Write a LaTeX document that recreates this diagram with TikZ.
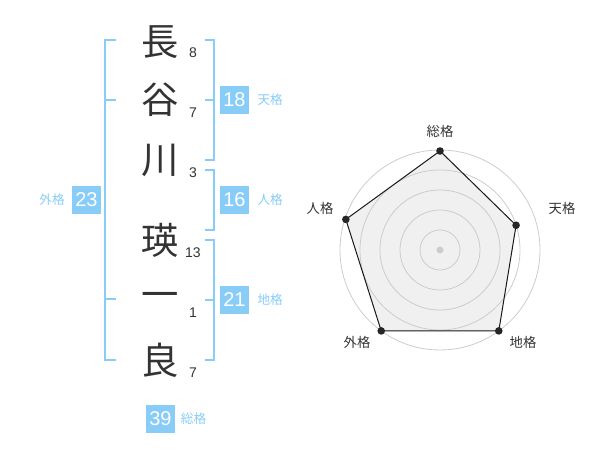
\documentclass[tikz,border=0pt]{standalone}
\usepackage{fontspec}
\usetikzlibrary{positioning}
\setmainfont{Liberation Sans}
\newfontfamily\jp{Noto Sans CJK JP}
\definecolor{kakusky}{HTML}{88CCF8}
\definecolor{inkgray}{HTML}{333333}
\definecolor{ringgray}{HTML}{CCCCCC}
\definecolor{padgray}{HTML}{F0F0F0}

\begin{document}
\begin{tikzpicture}[x=0.75pt,y=0.75pt,
  kanji/.style={font=\jp\fontsize{28}{28}\selectfont, text=inkgray, inner sep=0pt},
  strokes/.style={font=\fontsize{10.5}{10.5}\selectfont, text=inkgray, inner sep=0pt},
  kakubox/.style={fill=kakusky, text=white, minimum width=21.75pt, minimum height=21pt,
    inner sep=0pt, font=\fontsize{15}{15}\selectfont},
  kakulabel/.style={text=kakusky, font=\jp\fontsize{9.5}{9.5}\selectfont, inner sep=0pt},
  bracket/.style={draw=kakusky, line width=1.5pt},
  radarlabel/.style={font=\jp\fontsize{10}{10}\selectfont, text=inkgray, inner sep=0pt}]
  \useasboundingbox (0,0) rectangle (600,-470);

  % name, one character per row
  \node[kanji] (c1) at (160,-42) {長};
  \node[kanji] (c2) at (160,-100) {谷};
  \node[kanji] (c3) at (160,-160) {川};
  \node[kanji] (c4) at (160,-240) {瑛};
  \node[kanji] (c5) at (160,-300) {一};
  \node[kanji] (c6) at (160,-360) {良};
  \node[strokes] (s1) at (193,-53) {8};
  \node[strokes] (s2) at (193,-113) {7};
  \node[strokes] (s3) at (193,-173) {3};
  \node[strokes] (s4) at (193,-253) {13};
  \node[strokes] (s5) at (193,-313) {1};
  \node[strokes] (s6) at (193,-373) {7};

  % brackets
  \draw[bracket] (116,-40) -| (105,-360) -- (116,-360);
  \draw[bracket] (105,-100) -- (116,-100) (105,-299) -- (116,-299);
  \draw[bracket] (205,-40) -| (214,-160) -- (205,-160) (214,-100) -- (205,-100);
  \draw[bracket] (205,-170) -| (214,-230) -- (205,-230);
  \draw[bracket] (205,-240) -| (214,-360) -- (205,-360) (214,-300) -- (205,-300);

  % scores
  \node[kakubox] (gaikaku) at (86.5,-200) {23};
  \node[kakulabel, left=5pt of gaikaku] (gailbl) {外格};
  \node[kakubox] (tenkaku) at (234.5,-100) {18};
  \node[kakulabel, right=6pt of tenkaku] (tenlbl) {天格};
  \node[kakubox] (jinkaku) at (234.5,-200) {16};
  \node[kakulabel, right=6pt of jinkaku] (jinlbl) {人格};
  \node[kakubox] (chikaku) at (234.5,-300) {21};
  \node[kakulabel, right=6pt of chikaku] (chilbl) {地格};
  \node[kakubox] (soukaku) at (160.5,-419) {39};
  \node[kakulabel, right=4pt of soukaku] (soulbl) {総格};

  % radar
  \coordinate (o) at (440,-250);
  \path (o) ++(90:99) coordinate (sou) (o) ++(18:80) coordinate (ten)
    (o) ++(-54:100) coordinate (chi) (o) ++(-126:100) coordinate (gai)
    (o) ++(162:99) coordinate (jin);
  \fill[padgray] (sou) -- (ten) -- (chi) -- (gai) -- (jin) -- cycle;
  \foreach \r in {20,40,...,100}
    \draw[ringgray, line width=0.6pt] (o) circle (\r);
  \draw[black!90, line width=0.75pt] (sou) -- (ten) -- (chi) -- (gai) -- (jin) -- cycle;
  \foreach \p in {sou,ten,chi,gai,jin}
    \fill[black!85] (\p) circle (3.8);
  \fill[ringgray] (o) circle (3.5);
  \node[radarlabel] (soutxt) at (440,-131) {総格};
  \node[radarlabel] (tentxt) at (562,-208) {天格};
  \node[radarlabel] (chitxt) at (523,-342) {地格};
  \node[radarlabel] (gaitxt) at (357,-342) {外格};
  \node[radarlabel] (jintxt) at (320,-208) {人格};
\end{tikzpicture}
\end{document}
